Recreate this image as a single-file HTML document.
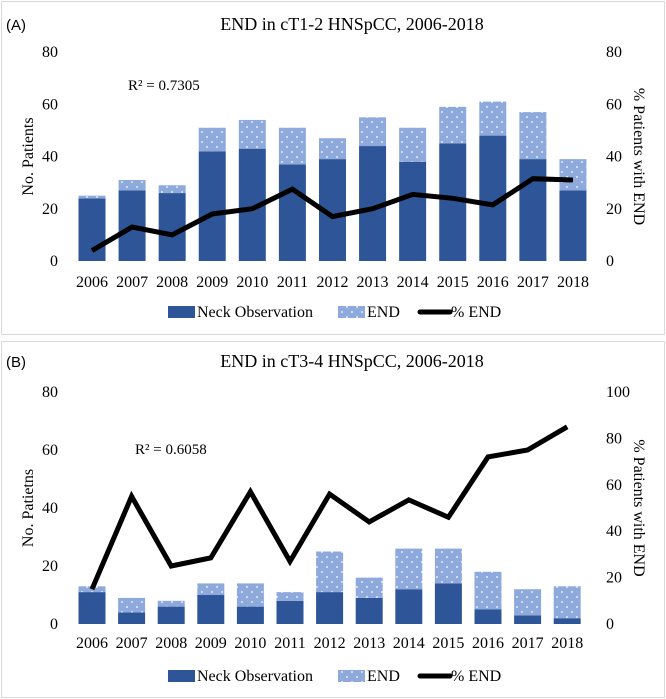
<!DOCTYPE html>
<html><head><meta charset="utf-8">
<style>
html,body{margin:0;padding:0;background:#fff;}
svg{display:block;font-family:"Liberation Serif",serif;}
</style></head>
<body>
<svg id="chart" width="666" height="699" viewBox="0 0 666 699" xmlns="http://www.w3.org/2000/svg">
<defs>
<pattern id="dots" width="10" height="10" patternUnits="userSpaceOnUse">
<rect width="10" height="10" fill="#8eaadc"/>
<circle cx="2" cy="2" r="0.9" fill="#fff"/>
<circle cx="7" cy="7" r="0.9" fill="#fff"/>
</pattern>
</defs>
<rect x="1.5" y="1.5" width="663" height="333" fill="#fff" stroke="#d9d9d9"/>
<rect x="1.5" y="341.5" width="663" height="356" fill="#fff" stroke="#d9d9d9"/>
<g id="pa"></g>
<g id="pb"></g>
</svg>
<script>
const years = ["2006","2007","2008","2009","2010","2011","2012","2013","2014","2015","2016","2017","2018"];
const obsA = [24,27,26,42,43,37,39,44,38,45,48,39,27];
const endA = [1,4,3,9,11,14,8,11,13,14,13,18,12];
const pctA = [4,13,10,18,20,27.5,17,20,25.5,24,21.5,31.5,31];
const leftTicksA = [0,20,40,60,80];
const rightTicksA = [0,20,40,60,80];
const obsB = [11,4,6,10,6,8,11,9,12,14,5,3,2];
const endB = [2,5,2,4,8,3,14,7,14,12,13,9,11];
const pctB = [15,55,25,28.5,57,27,56,44,53.5,46,72,75,85];
const leftTicksB = [0,20,40,60,80];
const rightTicksB = [0,20,40,60,80,100];

const NS = "http://www.w3.org/2000/svg";
function mk(parent, tag, attrs, text) {
  const e = document.createElementNS(NS, tag);
  for (const k in attrs) e.setAttribute(k, attrs[k]);
  if (text !== undefined) e.textContent = text;
  parent.appendChild(e);
  return e;
}

function panel(g, cfg, obs, end, pct, lt, rt) {
  const yL = v => cfg.y0 - (v / cfg.lmax) * (cfg.y0 - cfg.ytop);
  const yR = v => cfg.y0 - (v / cfg.rmax) * (cfg.y0 - cfg.ytop);
  const xC = i => cfg.x0 + i * cfg.step;
  const bw = 27;
  let t;
  t = mk(g, "text", {x: 6, y: cfg.ty, "font-family": "Liberation Sans, sans-serif", "font-size": 15, fill: "#000"}, cfg.tag);
  
  
  t = mk(g, "text", {x: 352, y: cfg.ty, "text-anchor": "middle", "font-size": 18}, cfg.title);
  
  
  lt.forEach(v => {
    const e = mk(g, "text", {x: 58, y: yL(v) + 5, "text-anchor": "end", "font-size": 16}, String(v));
    
    
  });
  rt.forEach(v => {
    const e = mk(g, "text", {x: 606, y: yR(v) + 5, "text-anchor": "start", "font-size": 16}, String(v));
    
    
  });
  const cy = (cfg.ytop + cfg.y0) / 2;
  t = mk(g, "text", {x: 0, y: 0, transform: `translate(33,${cy}) rotate(-90)`, "text-anchor": "middle", "font-size": 16}, cfg.ltitle);
  
  
  t = mk(g, "text", {x: 0, y: 0, transform: `translate(634,${cy}) rotate(90)`, "text-anchor": "middle", "font-size": 16}, "% Patients with END");
  
  
  years.forEach((y, i) => {
    const e = mk(g, "text", {x: xC(i), y: cfg.yl, "text-anchor": "middle", "font-size": 16}, y);
    
    
    const b1 = mk(g, "rect", {x: xC(i) - bw / 2, y: yL(obs[i]), width: bw, height: yL(0) - yL(obs[i]), fill: "#2e5597"});
    
    
    const b2 = mk(g, "rect", {x: xC(i) - bw / 2, y: yL(obs[i] + end[i]), width: bw, height: yL(obs[i]) - yL(obs[i] + end[i]), fill: "url(#dots)"});
    
    
  });
  const pts = pct.map((v, i) => xC(i) + "," + yR(v)).join(" ");
  const ln = mk(g, "polyline", {points: pts, fill: "none", stroke: "#000", "stroke-width": 5, "stroke-linejoin": "miter"});
  
  
  t = mk(g, "text", {x: cfg.rx, y: cfg.ry, "font-size": 15}, cfg.r2);
  
  
  const ly = cfg.leg;
  let r = mk(g, "rect", {x: 168, y: ly - 6, width: 27, height: 12, fill: "#2e5597"});
  
  
  t = mk(g, "text", {x: 197, y: ly + 5, "font-size": 16}, "Neck Observation");
  
  
  r = mk(g, "rect", {x: 338, y: ly - 6, width: 27, height: 12, fill: "url(#dots)"});
  
  
  t = mk(g, "text", {x: 367, y: ly + 5, "font-size": 16}, "END");
  
  
  r = mk(g, "line", {x1: 420, y1: ly, x2: 450, y2: ly, stroke: "#000", "stroke-width": 5, "stroke-linecap": "round"});
  
  
  t = mk(g, "text", {x: 451, y: ly + 5, "font-size": 16}, "% END");
  
  
}

panel(document.getElementById("pa"),
  {tag: "(A)", title: "END in cT1-2 HNSpCC, 2006-2018", ty: 30, y0: 261, ytop: 52, lmax: 80, rmax: 80,
   x0: 92, step: 40.08, yl: 287, leg: 312, ltitle: "No. Patients", r2: "R² = 0.7305", rx: 128, ry: 90},
  obsA, endA, pctA, leftTicksA, rightTicksA);
panel(document.getElementById("pb"),
  {tag: "(B)", title: "END in cT3-4 HNSpCC, 2006-2018", ty: 367, y0: 624, ytop: 392, lmax: 80, rmax: 100,
   x0: 92, step: 39.6, yl: 648, leg: 676, ltitle: "No. Patietns", r2: "R² = 0.6058", rx: 135, ry: 454},
  obsB, endB, pctB, leftTicksB, rightTicksB);
</script>
</body></html>
